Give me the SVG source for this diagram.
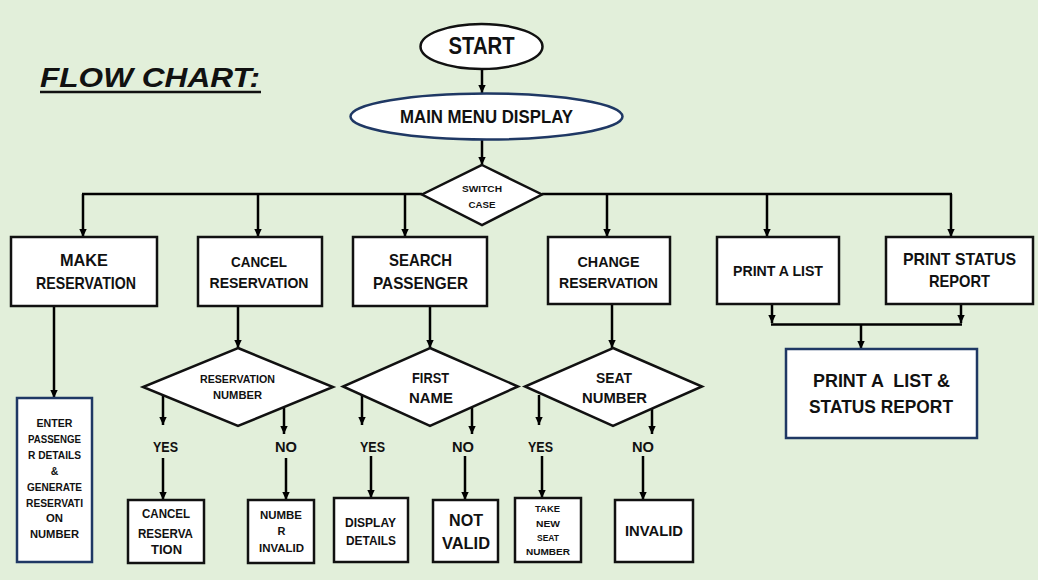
<svg xmlns="http://www.w3.org/2000/svg" width="1038" height="580" viewBox="0 0 1038 580">
<defs>
<marker id="ah" markerWidth="9" markerHeight="9" refX="8" refY="4.5" orient="auto" markerUnits="userSpaceOnUse"><path d="M0,0.8 L8,4.5 L0,8.2 z" fill="#000"/></marker>
</defs>
<style>
text{font-family:"Liberation Sans",Arial,sans-serif;font-weight:bold;fill:#111;text-anchor:middle}
.box{fill:#fff;stroke:#111;stroke-width:2.5}
.bbox{fill:#fff;stroke:#1f3864;stroke-width:2.5}
#connectors line{stroke:#000;stroke-width:2.5;fill:none}
.a{marker-end:url(#ah)}
</style>
<rect x="0" y="0" width="1038" height="580" fill="#e2efda"/>
<g id="title">
<text x="40" y="87" font-size="27" style="text-anchor:start;font-style:italic" textLength="220" lengthAdjust="spacingAndGlyphs">FLOW CHART:</text>
<line x1="40" y1="92" x2="261" y2="92" stroke="#111" stroke-width="2.5"/>
</g>
<g id="connectors">
<line class="a" x1="482" y1="69" x2="482" y2="93"/>
<line class="a" x1="482" y1="140" x2="482" y2="165"/>
<line x1="82" y1="194" x2="422" y2="194"/>
<line x1="542" y1="194" x2="952" y2="194"/>
<line class="a" x1="83" y1="194" x2="83" y2="237"/>
<line class="a" x1="258" y1="194" x2="258" y2="237"/>
<line class="a" x1="405" y1="194" x2="405" y2="237"/>
<line class="a" x1="607" y1="194" x2="607" y2="237"/>
<line class="a" x1="767" y1="194" x2="767" y2="237"/>
<line class="a" x1="951" y1="194" x2="951" y2="237"/>
<line class="a" x1="54" y1="306" x2="54" y2="398"/>
<line class="a" x1="238" y1="306" x2="238" y2="348"/>
<line class="a" x1="430" y1="306" x2="430" y2="348"/>
<line class="a" x1="612" y1="304" x2="612" y2="348"/>
<line class="a" x1="163" y1="395" x2="163" y2="425"/>
<line class="a" x1="163" y1="458" x2="163" y2="500"/>
<line class="a" x1="284" y1="408" x2="284" y2="434"/>
<line class="a" x1="286" y1="458" x2="286" y2="500"/>
<line class="a" x1="362" y1="395" x2="362" y2="425"/>
<line class="a" x1="371" y1="456" x2="371" y2="498"/>
<line class="a" x1="472" y1="408" x2="472" y2="434"/>
<line class="a" x1="465" y1="456" x2="465" y2="500"/>
<line class="a" x1="539" y1="395" x2="539" y2="425"/>
<line class="a" x1="542" y1="456" x2="542" y2="498"/>
<line class="a" x1="652" y1="408" x2="652" y2="434"/>
<line class="a" x1="643" y1="456" x2="643" y2="500"/>
<line class="a" x1="772" y1="304" x2="772" y2="323"/>
<line class="a" x1="961" y1="304" x2="961" y2="323"/>
<line x1="771" y1="324.5" x2="962" y2="324.5"/>
<line class="a" x1="861" y1="324" x2="861" y2="349"/>
</g>
<g id="start">
<ellipse class="box" cx="481.5" cy="46.5" rx="61" ry="22.5"/>
<text x="481.5" y="54" font-size="23" textLength="66" lengthAdjust="spacingAndGlyphs">START</text>
</g>
<g id="main-menu">
<ellipse cx="486.5" cy="116.5" rx="136" ry="23" fill="#fff" stroke="#1f3864" stroke-width="2.5"/>
<text x="486.5" y="123" font-size="18" textLength="173" lengthAdjust="spacingAndGlyphs">MAIN MENU DISPLAY</text>
</g>
<g id="switch-case">
<polygon class="box" points="482,165 542,194.5 482,225 422,194.5"/>
<text x="482" y="191.5" font-size="9.5" textLength="40" lengthAdjust="spacingAndGlyphs">SWITCH</text>
<text x="482" y="207.5" font-size="9.5" textLength="27" lengthAdjust="spacingAndGlyphs">CASE</text>
</g>
<g id="make-reservation">
<rect class="box" x="11" y="237" width="146" height="69"/>
<text x="84" y="266" font-size="17" textLength="48" lengthAdjust="spacingAndGlyphs">MAKE</text>
<text x="86" y="289" font-size="17" textLength="100" lengthAdjust="spacingAndGlyphs">RESERVATION</text>
</g>
<g id="cancel-reservation">
<rect class="box" x="198" y="237" width="124" height="69"/>
<text x="259" y="267" font-size="15" textLength="56" lengthAdjust="spacingAndGlyphs">CANCEL</text>
<text x="259" y="288" font-size="15" textLength="99" lengthAdjust="spacingAndGlyphs">RESERVATION</text>
</g>
<g id="search-passenger">
<rect class="box" x="353" y="237" width="134" height="69"/>
<text x="420.5" y="266" font-size="17" textLength="63" lengthAdjust="spacingAndGlyphs">SEARCH</text>
<text x="420.5" y="289" font-size="17" textLength="95" lengthAdjust="spacingAndGlyphs">PASSENGER</text>
</g>
<g id="change-reservation">
<rect class="box" x="548" y="237" width="122" height="67"/>
<text x="608.5" y="267" font-size="15" textLength="62" lengthAdjust="spacingAndGlyphs">CHANGE</text>
<text x="608.5" y="288" font-size="15" textLength="99" lengthAdjust="spacingAndGlyphs">RESERVATION</text>
</g>
<g id="print-list">
<rect class="box" x="717" y="237" width="122" height="67"/>
<text x="778" y="276" font-size="14" textLength="90" lengthAdjust="spacingAndGlyphs">PRINT A LIST</text>
</g>
<g id="print-status">
<rect class="box" x="886" y="237" width="147" height="67"/>
<text x="959.5" y="265" font-size="17" textLength="113" lengthAdjust="spacingAndGlyphs">PRINT STATUS</text>
<text x="959.5" y="287" font-size="17" textLength="61" lengthAdjust="spacingAndGlyphs">REPORT</text>
</g>
<g id="print-both">
<rect class="bbox" x="786" y="349" width="191" height="89"/>
<text x="881.5" y="387" font-size="19" style="white-space:pre" textLength="137" lengthAdjust="spacingAndGlyphs">PRINT A  LIST &amp;</text>
<text x="881" y="413" font-size="19" textLength="144" lengthAdjust="spacingAndGlyphs">STATUS REPORT</text>
</g>
<g id="enter-details">
<rect class="bbox" x="17" y="398" width="75" height="164"/>
<g font-size="10.5">
<text x="54.5" y="427" textLength="36" lengthAdjust="spacingAndGlyphs">ENTER</text>
<text x="54.5" y="443" textLength="53" lengthAdjust="spacingAndGlyphs">PASSENGE</text>
<text x="54.5" y="459" textLength="53" lengthAdjust="spacingAndGlyphs">R DETAILS</text>
<text x="54.5" y="475">&amp;</text>
<text x="54.5" y="491" textLength="55" lengthAdjust="spacingAndGlyphs">GENERATE</text>
<text x="54.5" y="507" textLength="57" lengthAdjust="spacingAndGlyphs">RESERVATI</text>
<text x="54.5" y="522" textLength="17" lengthAdjust="spacingAndGlyphs">ON</text>
<text x="54.5" y="538" textLength="49" lengthAdjust="spacingAndGlyphs">NUMBER</text>
</g>
</g>
<g id="reservation-number">
<polygon class="box" points="238,348 333,387 238,426 143,387"/>
<text x="237.5" y="383" font-size="10" textLength="75" lengthAdjust="spacingAndGlyphs">RESERVATION</text>
<text x="237.5" y="399" font-size="10" textLength="49" lengthAdjust="spacingAndGlyphs">NUMBER</text>
</g>
<g id="first-name">
<polygon class="box" points="430,348 518,386.5 430,426 343,386.5"/>
<text x="430.5" y="383" font-size="14" textLength="37" lengthAdjust="spacingAndGlyphs">FIRST</text>
<text x="431" y="403" font-size="14" textLength="44" lengthAdjust="spacingAndGlyphs">NAME</text>
</g>
<g id="seat-number">
<polygon class="box" points="613,348 702,386.5 613,426 525,386.5"/>
<text x="614" y="383" font-size="14" textLength="36" lengthAdjust="spacingAndGlyphs">SEAT</text>
<text x="614.5" y="403" font-size="14" textLength="65" lengthAdjust="spacingAndGlyphs">NUMBER</text>
</g>
<g id="labels" font-size="14">
<text x="165.5" y="452" textLength="25" lengthAdjust="spacingAndGlyphs">YES</text>
<text x="286" y="452" textLength="22" lengthAdjust="spacingAndGlyphs">NO</text>
<text x="372.5" y="452" textLength="25" lengthAdjust="spacingAndGlyphs">YES</text>
<text x="463" y="452" textLength="22" lengthAdjust="spacingAndGlyphs">NO</text>
<text x="540.5" y="452" textLength="25" lengthAdjust="spacingAndGlyphs">YES</text>
<text x="643" y="452" textLength="22" lengthAdjust="spacingAndGlyphs">NO</text>
</g>
<g id="cancel-result">
<rect class="box" x="128" y="500" width="76" height="63"/>
<text x="166" y="518" font-size="13.5" textLength="48" lengthAdjust="spacingAndGlyphs">CANCEL</text>
<text x="165.5" y="538" font-size="13.5" textLength="55" lengthAdjust="spacingAndGlyphs">RESERVA</text>
<text x="166.5" y="554" font-size="13.5" textLength="31" lengthAdjust="spacingAndGlyphs">TION</text>
</g>
<g id="number-invalid">
<rect class="box" x="248" y="500" width="66" height="63"/>
<text x="281" y="519" font-size="11" textLength="42" lengthAdjust="spacingAndGlyphs">NUMBE</text>
<text x="281.5" y="535" font-size="11">R</text>
<text x="281.5" y="552" font-size="11" textLength="45" lengthAdjust="spacingAndGlyphs">INVALID</text>
</g>
<g id="display-details">
<rect class="box" x="334" y="498" width="74" height="64"/>
<text x="370.5" y="527" font-size="12" textLength="51" lengthAdjust="spacingAndGlyphs">DISPLAY</text>
<text x="371" y="545" font-size="12" textLength="50" lengthAdjust="spacingAndGlyphs">DETAILS</text>
</g>
<g id="not-valid">
<rect class="box" x="433" y="500" width="65" height="62"/>
<text x="466" y="526" font-size="17" textLength="34" lengthAdjust="spacingAndGlyphs">NOT</text>
<text x="466" y="549" font-size="17" textLength="48" lengthAdjust="spacingAndGlyphs">VALID</text>
</g>
<g id="take-new-seat">
<rect class="box" x="515" y="498" width="66" height="64"/>
<text x="547.5" y="512" font-size="9.5" textLength="25" lengthAdjust="spacingAndGlyphs">TAKE</text>
<text x="548" y="527" font-size="9.5" textLength="24" lengthAdjust="spacingAndGlyphs">NEW</text>
<text x="548" y="541" font-size="9.5" textLength="22" lengthAdjust="spacingAndGlyphs">SEAT</text>
<text x="548" y="555" font-size="9.5" textLength="44" lengthAdjust="spacingAndGlyphs">NUMBER</text>
</g>
<g id="invalid">
<rect class="box" x="615" y="500" width="78" height="62"/>
<text x="654" y="536" font-size="15" textLength="58" lengthAdjust="spacingAndGlyphs">INVALID</text>
</g>
</svg>
